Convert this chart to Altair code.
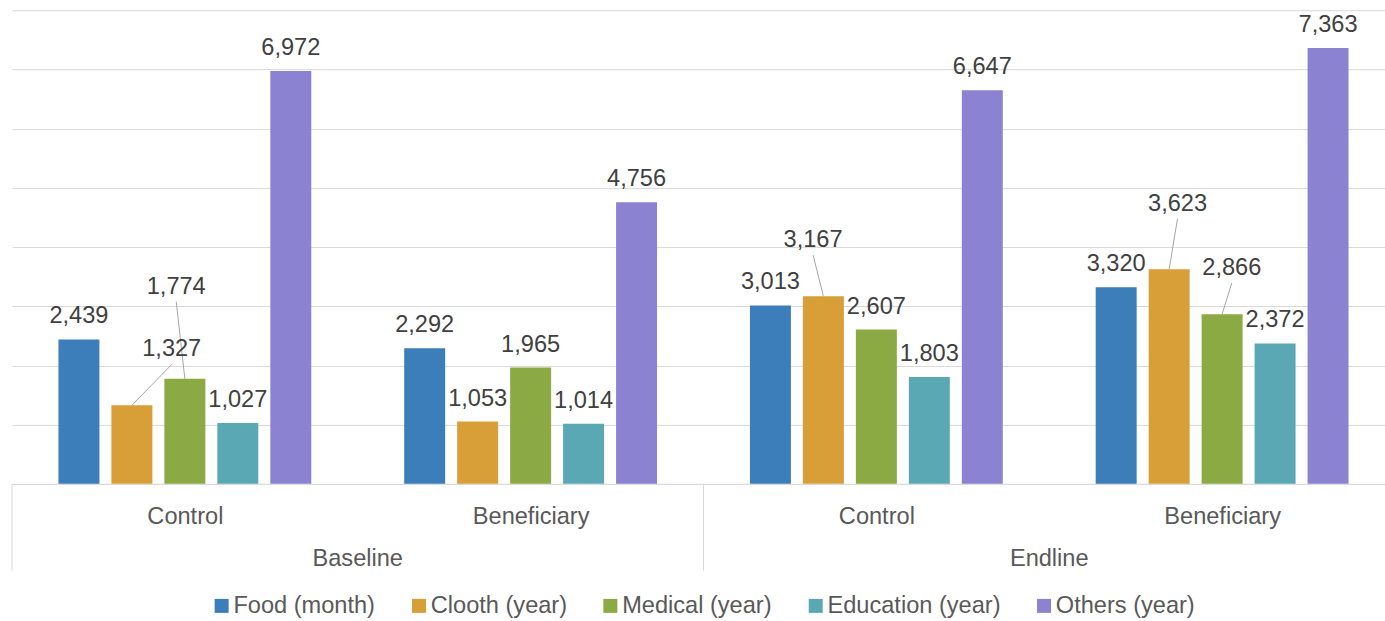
import altair as alt
import pandas as pd

# ---- data ----
rounds = ["Baseline", "Endline"]
groups = ["Control", "Beneficiary"]
series = ["Food (month)", "Clooth (year)", "Medical (year)", "Education (year)", "Others (year)"]
colors = ["#3C7EB9", "#D89E38", "#8BAA43", "#5AA8B4", "#8B82D2"]

baseline_control = [2439, 1327, 1774, 1027, 6972]
baseline_beneficiary = [2292, 1053, 1965, 1014, 4756]
endline_control = [3013, 3167, 2607, 1803, 6647]
endline_beneficiary = [3320, 3623, 2866, 2372, 7363]

# labels pulled away from crowded bars and tied back with a leader line:
# (cluster, series index, anchor x inside the cluster, anchor value)
moved_labels = [
    (0, 1, 0.462, 2017),
    (0, 2, 0.475, 3080),
    (2, 1, 0.317, 3865),
    (3, 1, 0.371, 4481),
    (3, 2, 0.528, 3392),
]

# ---- layout constants (in cluster units) ----
BAR_PITCH = 0.1532
BAR_WIDTH = 0.1185
X_MAX = 3.9711
FONT = "Liberation Sans"
FS = 23.6

clusters = [baseline_control, baseline_beneficiary, endline_control, endline_beneficiary]
moved = {(c, j): (ax, av) for c, j, ax, av in moved_labels}

rows = []
for c, values in enumerate(clusters):
    for j, v in enumerate(values):
        center = c + 0.5 + (j - 2) * BAR_PITCH
        row = dict(cluster=c, series=series[j], value=v, center=center,
                   x0=center - BAR_WIDTH / 2, x1=center + BAR_WIDTH / 2,
                   label=f"{v:,}", moved=(c, j) in moved)
        if (c, j) in moved:
            ax, av = moved[(c, j)]
            row["lx"], row["ly"] = c + ax, av
        else:
            row["lx"], row["ly"] = center, v
        rows.append(row)
df = pd.DataFrame(rows)

outer = pd.DataFrame({"name": rounds, "mid": [1.0, 3.0]})
seps = pd.DataFrame({"edge": [0.0, 2.0]})

x_scale = alt.Scale(domain=[0, X_MAX], nice=False, zero=False, padding=0)
y_scale = alt.Scale(domain=[0, 8000], nice=False, padding=0)

inner_expr = "['" + "','".join(groups * 2) + "'][floor(datum.value)]"

bars = alt.Chart(df).mark_bar().encode(
    x=alt.X("x0:Q", scale=x_scale, axis=alt.Axis(
        values=[0.5, 1.5, 2.5, 3.5], labelExpr=inner_expr, title=None,
        grid=False, ticks=False, tickSize=0, domain=True, domainColor="#d9d9d9",
        labelFont=FONT, labelFontSize=FS, labelColor="#595959",
        labelPadding=21, labelFlush=False, labelOverlap=False)),
    x2="x1:Q",
    y=alt.Y("value:Q", scale=y_scale, axis=alt.Axis(
        values=list(range(0, 8001, 1000)), labels=False, ticks=False, domain=False,
        title=None, grid=True, gridColor="#d9d9d9", gridWidth=1, minExtent=0)),
    y2=alt.datum(0),
    color=alt.Color("series:N", scale=alt.Scale(domain=series, range=colors),
                    sort=series,
                    legend=alt.Legend(orient="none", legendX=198, legendY=584,
                                      direction="horizontal", title=None,
                                      symbolType="square", symbolSize=196,
                                      symbolStrokeWidth=0, labelFont=FONT,
                                      labelFontSize=FS, labelColor="#595959",
                                      labelOffset=0, columnPadding=31.5, padding=0,
                                      labelLimit=300)),
)

plain_labels = alt.Chart(df).transform_filter("!datum.moved").mark_text(
    font=FONT, fontSize=FS, color="#404040", baseline="alphabetic", dy=-16
).encode(x="center:Q", y="value:Q", text="label:N")

moved_text = alt.Chart(df).transform_filter("datum.moved").mark_text(
    font=FONT, fontSize=FS, color="#404040", baseline="alphabetic", dy=-8
).encode(x="lx:Q", y="ly:Q", text="label:N")

leader = alt.Chart(df).transform_filter("datum.moved").mark_rule(
    color="#a6a6a6", strokeWidth=1
).encode(x="center:Q", y="value:Q", x2="lx:Q", y2="ly:Q")

separators = alt.Chart(seps).mark_rule(color="#d9d9d9", strokeWidth=1).encode(
    x="edge:Q", y=alt.value(474), y2=alt.value(561))

outer_labels = alt.Chart(outer).mark_text(
    font=FONT, fontSize=FS, color="#595959", baseline="alphabetic"
).encode(x="mid:Q", y=alt.value(556), text="name:N")

chart = alt.layer(bars, leader, plain_labels, moved_text, separators, outer_labels).properties(
    width=1374, height=474,
    padding={"left": 11, "top": 10, "right": 0, "bottom": 0},
    background="white",
).configure_view(stroke=None)

chart.save("out.html", embed_options={"renderer": "svg", "actions": False})
